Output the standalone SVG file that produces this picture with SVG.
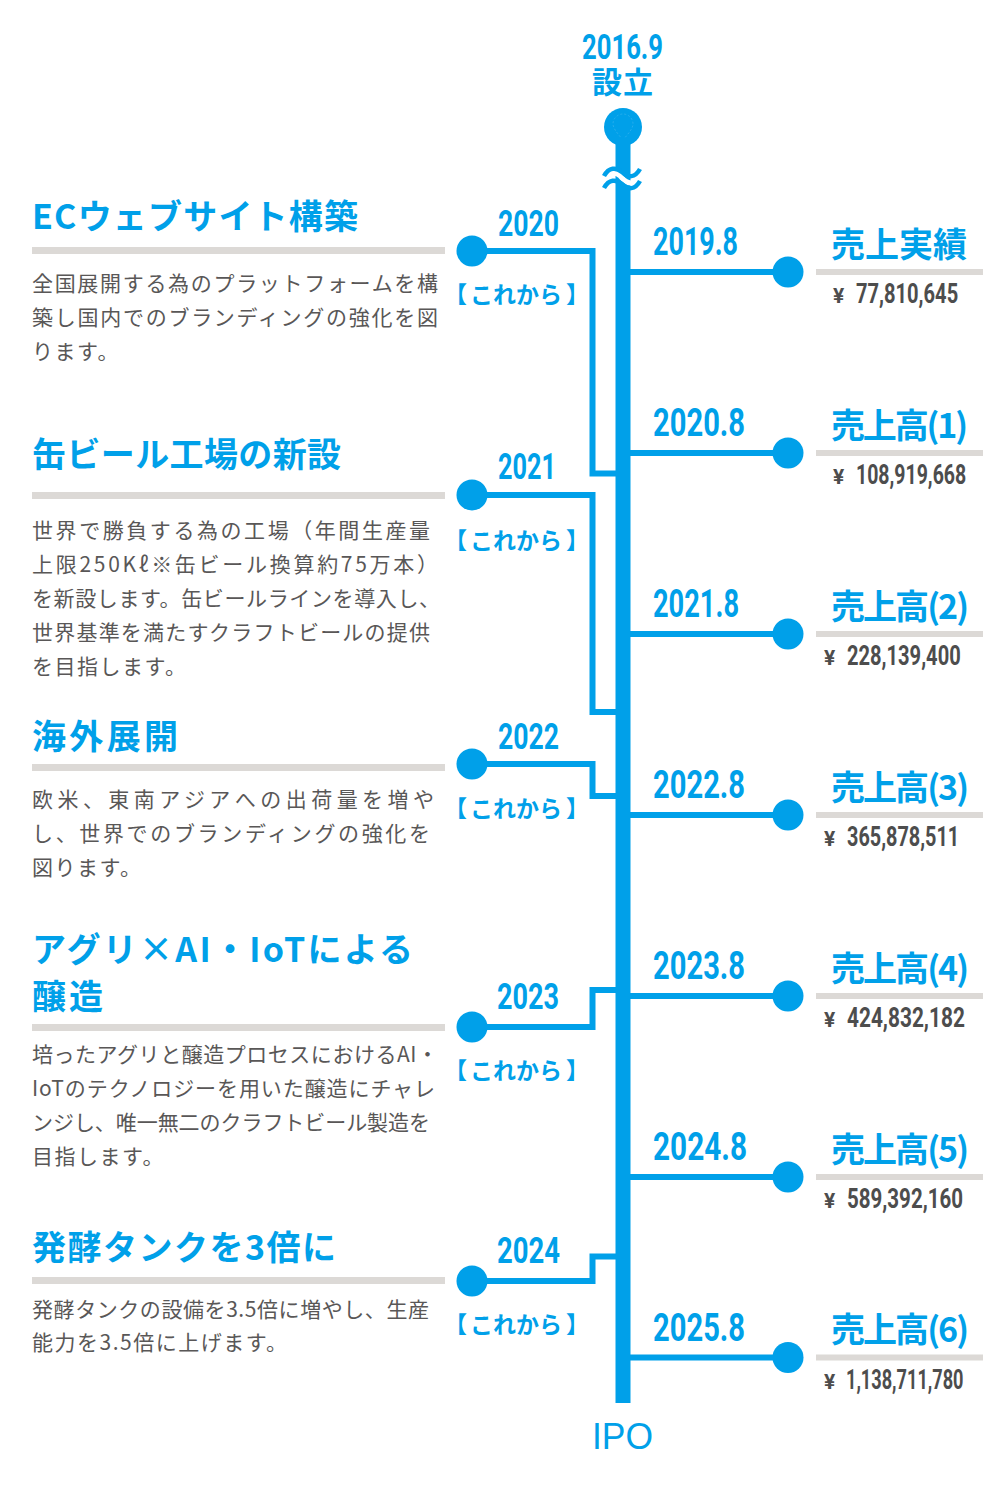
<svg xmlns="http://www.w3.org/2000/svg" width="1000" height="1488" viewBox="0 0 1000 1488">
<style>
.bg{fill:#ffffff}
.blue{fill:#00a0e9}
.num{font-family:Roboto,"Liberation Sans",sans-serif;font-weight:700;fill:#00a0e9}
.ttl{font-family:"Noto Sans CJK JP","Noto Sans",sans-serif;font-weight:700;fill:#00a0e9;font-size:34px}
.body{font-family:"Noto Sans CJK JP","Noto Sans",sans-serif;font-weight:400;fill:#595757;font-size:21px}
.nat{letter-spacing:1.5px}
.kore{font-family:"Noto Sans CJK JP",sans-serif;font-weight:700;fill:#00a0e9;font-size:23px}
.val{font-family:Roboto,"Liberation Sans",sans-serif;font-weight:700;fill:#4d4d4d;font-size:27px}
.yen{font-family:Roboto,"Liberation Sans",sans-serif;font-weight:700;fill:#4d4d4d;font-size:21px}
.rule{fill:#dcd9d6}
.ln{fill:none;stroke:#00a0e9;stroke-width:6}
.dot{fill:#00a0e9}
</style>
<rect class="bg" x="0" y="0" width="1000" height="1488"/>

<g id="spine">
  <circle class="dot" cx="623" cy="127" r="19"/>
  <path d="M623,140 C617,133 613,128 613,124 A10,10 0 0 1 633,124 C633,128 629,133 623,140 Z" fill="none" stroke="#3fb6ee" stroke-width="1" stroke-dasharray="2,2" opacity="0.6"/>
  <rect class="blue" x="615.5" y="138" width="15" height="1265"/>
  <path d="M602,181 C608,171 616,171 622,178 C628,185 636,185 642,175" fill="none" stroke="#ffffff" stroke-width="5"/>
  <path d="M604,176 C609,167 616,167 622,172 C628,178 635,178 640,169" fill="none" stroke="#00a0e9" stroke-width="4.5"/>
  <path d="M604,188 C609,179 616,179 622,184 C628,190 635,190 640,181" fill="none" stroke="#00a0e9" stroke-width="4.5"/>
  <text class="num" x="582" y="59" font-size="35" textLength="81" lengthAdjust="spacingAndGlyphs">2016.9</text>
  <text class="ttl" x="592" y="93" style="font-size:30px" textLength="61">設立</text>
  <text x="592" y="1449" font-family="'Liberation Sans',Arial,sans-serif" font-size="37" fill="#00a0e9" textLength="61" lengthAdjust="spacingAndGlyphs">IPO</text>
</g>

<g id="connectors">
  <path class="ln" d="M472,251 H592.5 V473.5 H617"/>
  <path class="ln" d="M472,495 H592.5 V712 H617"/>
  <path class="ln" d="M472,764 H592.5 V796 H617"/>
  <path class="ln" d="M472,1027 H592.5 V990 H617"/>
  <path class="ln" d="M472,1281 H592.5 V1256.5 H617"/>
  <path class="ln" d="M629,272 H788"/>
  <path class="ln" d="M629,453 H788"/>
  <path class="ln" d="M629,634 H788"/>
  <path class="ln" d="M629,815 H788"/>
  <path class="ln" d="M629,996 H788"/>
  <path class="ln" d="M629,1177 H788"/>
  <path class="ln" d="M629,1357.5 H788"/>
</g>

<!-- Left plan nodes -->
<g id="plan-2020">
  <text class="ttl" x="32" y="229" textLength="326">ECウェブサイト構築</text>
  <rect class="rule" x="32" y="247" width="413" height="7"/>
  <text class="body" x="32" y="291" textLength="406">全国展開する為のプラットフォームを構</text>
  <text class="body" x="32" y="325" textLength="406">築し国内でのブランディングの強化を図</text>
  <text class="body nat" x="32" y="359">ります。</text>
  <circle class="dot" cx="472" cy="251" r="15.5"/>
  <text class="num" x="498" y="236" font-size="37" textLength="61" lengthAdjust="spacingAndGlyphs">2020</text>
  <text class="kore" y="303"><tspan x="444">【</tspan><tspan x="470">これから</tspan><tspan x="566">】</tspan></text>
</g>

<g id="plan-2021">
  <text class="ttl" x="32" y="467" textLength="309">缶ビール工場の新設</text>
  <rect class="rule" x="32" y="492" width="413" height="7"/>
  <text class="body" x="32" y="538" textLength="398">世界で勝負する為の工場（年間生産量</text>
  <text class="body" x="32" y="572" textLength="406">上限250Kℓ※缶ビール換算約75万本）</text>
  <text class="body" x="32" y="606" textLength="408">を新設します。缶ビールラインを導入し、</text>
  <text class="body" x="32" y="640" textLength="398">世界基準を満たすクラフトビールの提供</text>
  <text class="body nat" x="32" y="674">を目指します。</text>
  <circle class="dot" cx="472" cy="495" r="15.5"/>
  <text class="num" x="498" y="479" font-size="37" textLength="58" lengthAdjust="spacingAndGlyphs">2021</text>
  <text class="kore" y="549"><tspan x="444">【</tspan><tspan x="470">これから</tspan><tspan x="566">】</tspan></text>
</g>

<g id="plan-2022">
  <text class="ttl" x="32" y="749" textLength="146">海外展開</text>
  <rect class="rule" x="32" y="764" width="413" height="7"/>
  <text class="body" x="32" y="807" textLength="402">欧米、東南アジアへの出荷量を増や</text>
  <text class="body" x="32" y="841" textLength="398">し、世界でのブランディングの強化を</text>
  <text class="body nat" x="32" y="875">図ります。</text>
  <circle class="dot" cx="472" cy="764" r="15.5"/>
  <text class="num" x="498" y="749" font-size="37" textLength="61" lengthAdjust="spacingAndGlyphs">2022</text>
  <text class="kore" y="817"><tspan x="444">【</tspan><tspan x="470">これから</tspan><tspan x="566">】</tspan></text>
</g>

<g id="plan-2023">
  <text class="ttl" x="32" y="962" textLength="381">アグリ×AI・IoTによる</text>
  <text class="ttl" x="32" y="1009" style="letter-spacing:3px">醸造</text>
  <rect class="rule" x="32" y="1024" width="413" height="7"/>
  <text class="body" x="32" y="1062" textLength="406">培ったアグリと醸造プロセスにおけるAI・</text>
  <text class="body" x="32" y="1096" textLength="403">IoTのテクノロジーを用いた醸造にチャレ</text>
  <text class="body" x="32" y="1130" textLength="398">ンジし、唯一無二のクラフトビール製造を</text>
  <text class="body nat" x="32" y="1164">目指します。</text>
  <circle class="dot" cx="472" cy="1027" r="15.5"/>
  <text class="num" x="497" y="1009" font-size="37" textLength="62" lengthAdjust="spacingAndGlyphs">2023</text>
  <text class="kore" y="1079"><tspan x="444">【</tspan><tspan x="470">これから</tspan><tspan x="566">】</tspan></text>
</g>

<g id="plan-2024">
  <text class="ttl" x="32" y="1260" textLength="304">発酵タンクを3倍に</text>
  <rect class="rule" x="32" y="1277" width="413" height="7"/>
  <text class="body" x="32" y="1317" textLength="397">発酵タンクの設備を3.5倍に増やし、生産</text>
  <text class="body nat" x="32" y="1350">能力を3.5倍に上げます。</text>
  <circle class="dot" cx="472" cy="1281" r="15.5"/>
  <text class="num" x="497" y="1263" font-size="37" textLength="63" lengthAdjust="spacingAndGlyphs">2024</text>
  <text class="kore" y="1333"><tspan x="444">【</tspan><tspan x="470">これから</tspan><tspan x="566">】</tspan></text>
</g>

<!-- Right sales nodes -->
<g id="sales-2019">
  <text class="num" x="653" y="255" font-size="38" textLength="85" lengthAdjust="spacingAndGlyphs">2019.8</text>
  <circle class="dot" cx="788" cy="272" r="15.5"/>
  <text class="ttl" x="831" y="257" textLength="136">売上実績</text>
  <rect class="rule" x="816" y="269" width="167" height="6"/>
  <text class="yen" x="833" y="303">¥</text>
  <text class="val" transform="translate(856,303) scale(0.745,1)" x="0" y="0">77,810,645</text>
</g>

<g id="sales-2020">
  <text class="num" x="653" y="436" font-size="38" textLength="92" lengthAdjust="spacingAndGlyphs">2020.8</text>
  <circle class="dot" cx="788" cy="453" r="15.5"/>
  <text class="ttl" x="831" y="438" textLength="137">売上高(1)</text>
  <rect class="rule" x="816" y="450" width="167" height="6"/>
  <text class="yen" x="833" y="484">¥</text>
  <text class="val" transform="translate(856,484) scale(0.722,1)" x="0" y="0">108,919,668</text>
</g>

<g id="sales-2021">
  <text class="num" x="653" y="617" font-size="38" textLength="86" lengthAdjust="spacingAndGlyphs">2021.8</text>
  <circle class="dot" cx="788" cy="634" r="15.5"/>
  <text class="ttl" x="831" y="619" textLength="138">売上高(2)</text>
  <rect class="rule" x="816" y="631" width="167" height="6"/>
  <text class="yen" x="824" y="665">¥</text>
  <text class="val" transform="translate(847,665) scale(0.745,1)" x="0" y="0">228,139,400</text>
</g>

<g id="sales-2022">
  <text class="num" x="653" y="798" font-size="38" textLength="92" lengthAdjust="spacingAndGlyphs">2022.8</text>
  <circle class="dot" cx="788" cy="815" r="15.5"/>
  <text class="ttl" x="831" y="800" textLength="138">売上高(3)</text>
  <rect class="rule" x="816" y="812" width="167" height="6"/>
  <text class="yen" x="824" y="846">¥</text>
  <text class="val" transform="translate(847,846) scale(0.735,1)" x="0" y="0">365,878,511</text>
</g>

<g id="sales-2023">
  <text class="num" x="653" y="979" font-size="38" textLength="92" lengthAdjust="spacingAndGlyphs">2023.8</text>
  <circle class="dot" cx="788" cy="996" r="15.5"/>
  <text class="ttl" x="831" y="981" textLength="138">売上高(4)</text>
  <rect class="rule" x="816" y="993" width="167" height="6"/>
  <text class="yen" x="824" y="1027">¥</text>
  <text class="val" transform="translate(847,1027) scale(0.772,1)" x="0" y="0">424,832,182</text>
</g>

<g id="sales-2024">
  <text class="num" x="653" y="1160" font-size="38" textLength="94" lengthAdjust="spacingAndGlyphs">2024.8</text>
  <circle class="dot" cx="788" cy="1177" r="15.5"/>
  <text class="ttl" x="831" y="1162" textLength="138">売上高(5)</text>
  <rect class="rule" x="816" y="1174" width="167" height="6"/>
  <text class="yen" x="824" y="1208">¥</text>
  <text class="val" transform="translate(847,1208) scale(0.76,1)" x="0" y="0">589,392,160</text>
</g>

<g id="sales-2025">
  <text class="num" x="653" y="1341" font-size="38" textLength="92" lengthAdjust="spacingAndGlyphs">2025.8</text>
  <circle class="dot" cx="788" cy="1357.5" r="15.5"/>
  <text class="ttl" x="831" y="1342" textLength="138">売上高(6)</text>
  <rect class="rule" x="816" y="1354.5" width="167" height="6"/>
  <text class="yen" x="824" y="1389">¥</text>
  <text class="val" transform="translate(846,1389) scale(0.672,1)" x="0" y="0">1,138,711,780</text>
</g>
</svg>
